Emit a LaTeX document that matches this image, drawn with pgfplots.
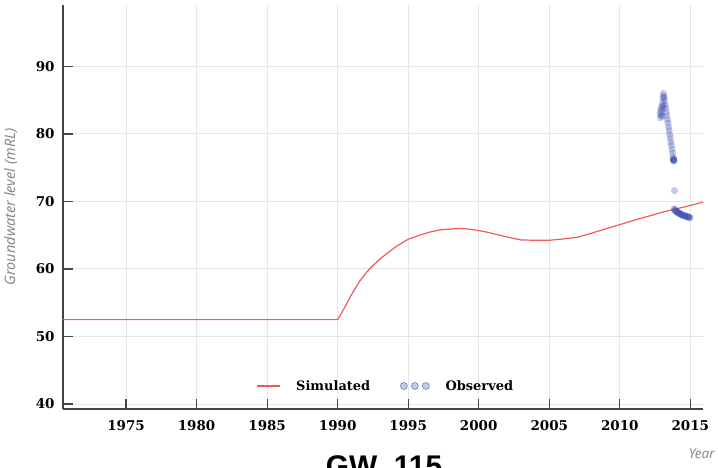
\documentclass[border=0pt]{standalone}
\usepackage{fontspec}
\usepackage{pgfplots}
\pgfplotsset{compat=1.18}
\setmainfont{DejaVu Serif}
\newfontfamily\labfont{Noto Sans}
\newfontfamily\titlefont{Liberation Sans}
\definecolor{simred}{HTML}{F05A5A}
\definecolor{obsblue}{HTML}{3F51B5}
\definecolor{gridgray}{HTML}{E6E6E6}
\definecolor{axgray}{HTML}{444444}
\definecolor{labgray}{HTML}{8A8A8A}

\pgfplotstableread{
year level
1970.53 52.5
1990.0 52.5
1990.5 54.3
1990.9 55.9
1991.3 57.3
1991.6 58.3
1992.0 59.4
1992.3 60.1
1992.9 61.3
1993.5 62.3
1994.2 63.4
1995.0 64.4
1995.8 65.0
1996.6 65.5
1997.3 65.8
1998.2 65.95
1998.7 66.0
1999.3 65.9
2000.0 65.7
2000.6 65.45
2001.3 65.1
2002.1 64.7
2003.0 64.3
2004.0 64.25
2005.0 64.25
2006.0 64.45
2007.0 64.7
2008.0 65.3
2009.0 65.95
2010.05 66.6
2011.0 67.2
2012.0 67.8
2013.0 68.4
2014.0 68.9
2015.0 69.4
2015.9 69.9
}\simdata

\pgfplotstableread{
year level
2012.85 83.0
2012.88 82.4
2012.90 83.6
2012.93 82.8
2012.95 84.0
2012.97 83.3
2013.00 82.6
2013.02 84.6
2013.04 83.8
2013.06 85.3
2013.08 84.2
2013.10 86.0
2013.11 85.6
2013.14 85.4
2013.18 84.9
2013.22 84.3
2013.26 83.8
2013.30 83.2
2013.34 82.7
2013.38 82.1
2013.42 81.6
2013.46 81.0
2013.50 80.5
2013.54 79.9
2013.58 79.4
2013.62 78.8
2013.66 78.3
2013.70 77.7
2013.74 77.2
2013.78 76.6
2013.80 76.3
2013.81 76.2
2013.82 76.1
2013.83 76.0
2013.82 76.2
2013.83 76.1
2013.88 71.6
2013.86 68.9
2013.89 68.8
2013.92 68.7
2013.95 68.6
2013.99 68.5
2014.03 68.5
2014.07 68.4
2014.11 68.4
2014.15 68.3
2014.19 68.3
2014.23 68.2
2014.27 68.2
2014.31 68.1
2014.35 68.1
2014.40 68.0
2014.45 68.0
2014.50 67.9
2014.55 67.9
2014.60 67.9
2014.65 67.8
2014.70 67.8
2014.75 67.8
2014.80 67.7
2014.85 67.7
2014.90 67.7
2014.94 67.6
2014.97 67.6
}\obsdata

\begin{document}
\begin{tikzpicture}
\path[use as bounding box] (0,0) rectangle (718bp,468bp);
\begin{axis}[
  at={(63bp,59bp)}, anchor=south west,
  scale only axis, width=640bp, height=404bp,
  xmin=1970.53, xmax=2015.9, ymin=39.26, ymax=99.1,
  axis x line*=bottom, axis y line*=left,
  axis line style={axgray, line width=1.2bp, -},
  xtick={1975,1980,...,2015}, ytick={40,50,...,90},
  tick align=inside, major tick length=10bp,
  tick style={axgray, line width=1.2bp},
  grid=major, grid style={gridgray, line width=1bp},
  ticklabel style={font=\fontsize{13.5}{15}\selectfont\bfseries},
  /pgf/number format/assume math mode=true,
  xticklabel style={/pgf/number format/1000 sep={}, yshift=-8bp},
  yticklabel style={xshift=-5bp},
  ylabel={Groundwater level (mRL)},
  ylabel style={at={(axis description cs:-0.081,0.5)}, anchor=center,
    font=\labfont\itshape\fontsize{14.5}{16}\selectfont, text=labgray},
  xlabel={Year},
  xlabel style={at={(axis description cs:0.998,-0.111)}, anchor=center,
    font=\labfont\itshape\fontsize{13.5}{15}\selectfont, text=labgray},
  legend style={at={(axis description cs:0.504,0.057)}, anchor=center,
    draw=none, fill=none, font=\fontsize{13}{15}\selectfont\bfseries,
    /tikz/every odd column/.append style={column sep=14bp},
    /tikz/every even column/.append style={column sep=28bp}},
  legend columns=2,
]
\addplot[simred, line width=1.2bp, no markers,
  legend image code/.code={\draw[simred, line width=1.2bp] (0bp,0bp) -- (23bp,0bp);}]
  table[x=year, y=level] {\simdata};
\addlegendentry{Simulated}
\addplot[obsblue, only marks, mark=*, mark size=3.6bp,
  mark options={fill=obsblue, draw=obsblue, draw opacity=0, fill opacity=0.3},
  legend image code/.code={\fill[obsblue, fill opacity=0.3] (0bp,0bp) circle (3.5bp) (11bp,0bp) circle (3.5bp) (22bp,0bp) circle (3.5bp);}]
  table[x=year, y=level] {\obsdata};
\addlegendentry{Observed}
\end{axis}
\node[anchor=north, inner sep=0pt, font=\titlefont\bfseries\fontsize{30}{30}\selectfont] at (384bp,13bp) {GW\_115};
\end{tikzpicture}
\end{document}
